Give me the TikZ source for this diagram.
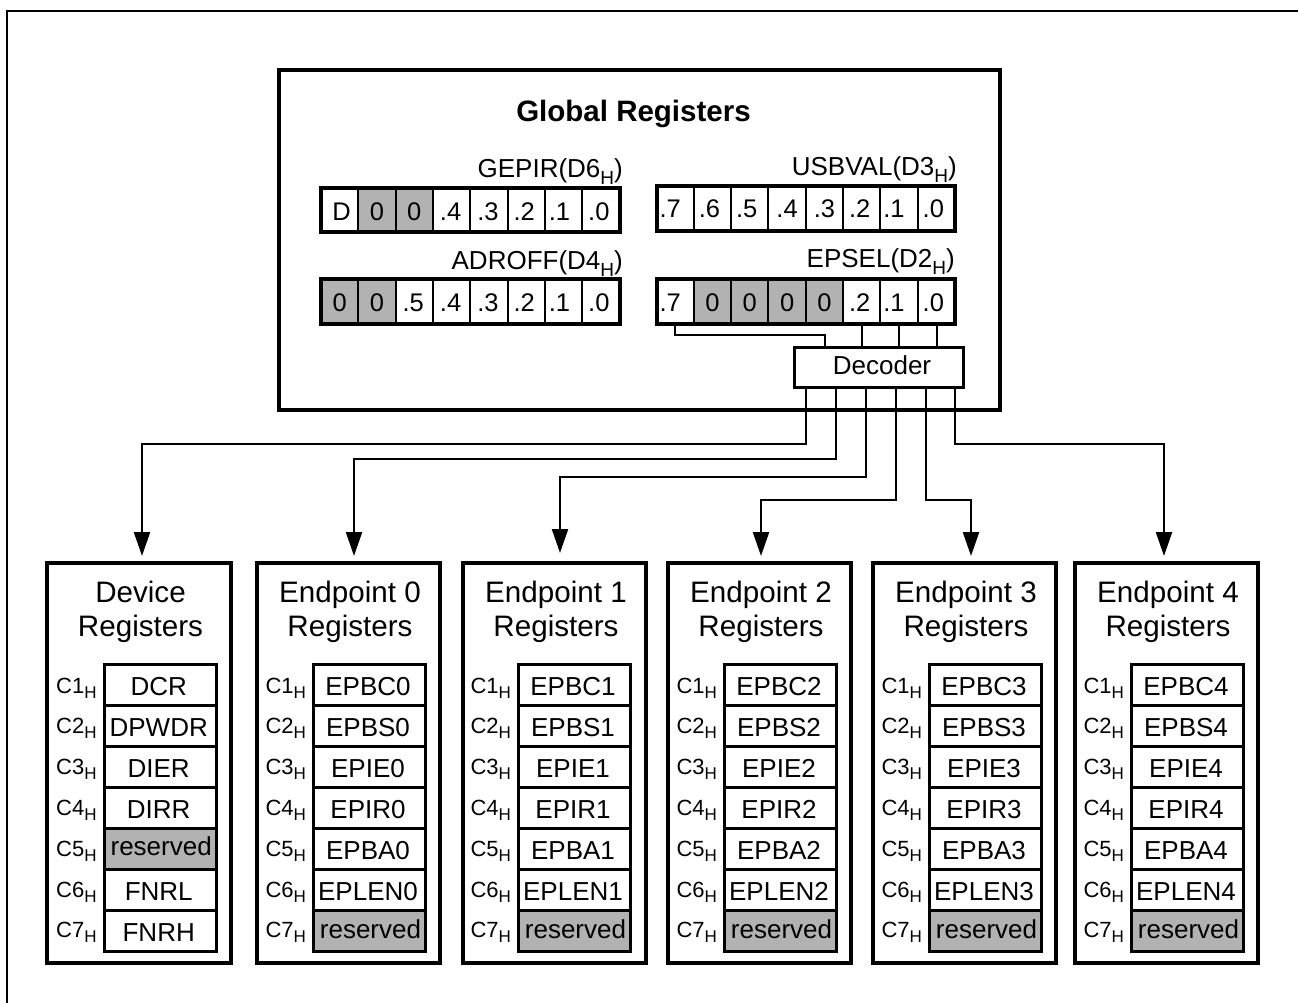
\documentclass[tikz,border=0pt]{standalone}
\usepackage{fontspec}
\setmainfont{Liberation Sans}
\usetikzlibrary{arrows.meta}
\definecolor{cellgray}{gray}{0.70}
\newcommand{\fs}[1]{\fontsize{#1}{#1}\selectfont}
\newcommand{\hsub}{\raisebox{-7pt}{\fs{19}H}}
% \bitrow{x left}{x right}{y top}{y bottom}{baseline}{cells}
\newcommand{\bitrow}[6]{%
  \pgfmathsetmacro{\cw}{(#2-#1)/8}
  \foreach \t/\f/\d [count=\i from 0] in {#6}{
    \pgfmathsetmacro{\xa}{#1+\i*\cw}
    \pgfmathsetmacro{\xb}{\xa+\cw}
    \pgfmathsetmacro{\xc}{\xa+\cw/2+\d}
    \fill[\f] (\xa,#3) rectangle (\xb,#4);
    \ifnum\i>0 \draw[thin2] (\xa,#3) -- (\xa,#4);\fi
    \node[bittext] at (\xc,#5) {\t};
  }
  \draw[thick4] (#1,#3) rectangle (#2,#4);
}
\tikzset{
  x=1pt,y=-1pt,
  thin2/.style={line width=2pt,draw=black},
  thick4/.style={line width=4pt,draw=black,line join=miter},
  thick3/.style={line width=3pt,draw=black},
  bittext/.style={anchor=base,inner sep=0pt,font=\fs{25.5}},
  regtext/.style={anchor=base,inner sep=0pt,font=\fs{26}},
  titletext/.style={anchor=base,inner sep=0pt,font=\fs{29.6}},
  rowlabel/.style={anchor=base west,inner sep=0pt,font=\fs{22}},
  nametext/.style={anchor=base east,inner sep=0pt,font=\fs{26}},
  regbox/.style={draw=black,line width=4pt,fill=white,minimum height=400pt,inner sep=0pt,outer sep=0pt},
  globalbox/.style={draw=black,line width=4pt,fill=white,minimum width=721pt,minimum height=340pt,inner sep=0pt,outer sep=0pt},
  decoderbox/.style={draw=black,line width=3pt,fill=white,minimum width=169pt,minimum height=40pt,inner sep=0pt,outer sep=0pt},
  conn/.style={line width=2.3pt,draw=black,-{Triangle[width=16pt,length=24pt]}},
  wire/.style={line width=2.2pt,draw=black},
}
\begin{document}
\begin{tikzpicture}
\useasboundingbox (0,0) rectangle (1298,1003);
\fill[white] (0,0) rectangle (1298,1003);
% page corner lines
\coordinate (cornerA) at (7,1003);
\coordinate (cornerB) at (7,11);
\coordinate (cornerC) at (1298,11);
\draw[line width=2pt,line join=miter] (cornerA) -- (cornerB) -- (cornerC);

% global registers
\node[globalbox] (global) at (639.5,240) {};
\node[anchor=base,inner sep=0pt,font=\fs{29.5}\bfseries] (gtitle) at (633.5,122) {Global Registers};

\node[nametext] (ngepir) at (623,178) {GEPIR(D6\hsub)};
\node[nametext] (nadroff) at (623,269) {ADROFF(D4\hsub)};
\node[nametext] (nusbval) at (957,176) {USBVAL(D3\hsub)};
\node[nametext] (nepsel) at (955,267) {EPSEL(D2\hsub)};

\bitrow{321}{619.5}{188}{232}{220}{D/white/2,0/cellgray/0,0/cellgray/0,.4/white/-1,.3/white/-1,.2/white/-2,.1/white/-4,.0/white/-2}
\bitrow{321}{619.5}{279}{324}{311}{0/cellgray/0,0/cellgray/0,.5/white/-1,.4/white/-1,.3/white/-1,.2/white/-2,.1/white/-4,.0/white/-2}
\bitrow{656.5}{955}{186}{231}{218}{.7/white/-5,.6/white/-3,.5/white/-3,.4/white/0,.3/white/0,.2/white/-2,.1/white/-5,.0/white/-3}
\bitrow{656.5}{955}{278.5}{324}{311}{.7/white/-5,0/cellgray/0,0/cellgray/0,0/cellgray/0,0/cellgray/0,.2/white/-2,.1/white/-5,.0/white/-3}

% decoder
\node[decoderbox] (decoder) at (878.5,367) {};
\node[regtext] (dectext) at (882,374) {Decoder};

\coordinate (s7) at (675,325);
\coordinate (s2) at (862,325);
\coordinate (s1) at (899,325);
\coordinate (s0) at (937,325);
\draw[wire] (s7) -- ++(0,10) -| (decoder.north -| 825,0);
\draw[wire] (s2) -- (decoder.north -| s2);
\draw[wire] (s1) -- (decoder.north -| s1);
\draw[wire] (s0) -- (decoder.north -| s0);

% register blocks
\foreach \bl/\br/\sl/\nm/\lineone/\rA/\rB/\rC/\rD/\rE/\rF/\rG/\sE/\sG/\dyE/\dyG in {
  47/231/104/dev/Device/DCR/DPWDR/DIER/DIRR/reserved/FNRL/FNRH/cellgray/white/3.5/0,
  257.3/439.7/313.3/ep0/Endpoint 0/EPBC0/EPBS0/EPIE0/EPIR0/EPBA0/EPLEN0/reserved/white/cellgray/0/3,
  463/646/518.3/ep1/Endpoint 1/EPBC1/EPBS1/EPIE1/EPIR1/EPBA1/EPLEN1/reserved/white/cellgray/0/3,
  668/851/724.3/ep2/Endpoint 2/EPBC2/EPBS2/EPIE2/EPIR2/EPBA2/EPLEN2/reserved/white/cellgray/0/3,
  873/1056/929.3/ep3/Endpoint 3/EPBC3/EPBS3/EPIE3/EPIR3/EPBA3/EPLEN3/reserved/white/cellgray/0/3,
  1075/1258/1131.3/ep4/Endpoint 4/EPBC4/EPBS4/EPIE4/EPIR4/EPBA4/EPLEN4/reserved/white/cellgray/0/3}{
  \pgfmathsetmacro{\bc}{(\bl+\br)/2}
  \pgfmathsetmacro{\bw}{\br-\bl}
  \node[regbox,minimum width=\bw pt] (box\nm) at (\bc,763) {};
  \pgfmathsetmacro{\tc}{\bc+1.5}
  \pgfmathsetmacro{\sr}{\sl+112.4}
  \pgfmathsetmacro{\sc}{\sl+56.2-1.5}
  \pgfmathsetmacro{\lx}{\sl-48}
  \node[titletext] (t1\nm) at (\tc,602) {\lineone};
  \node[titletext] (t2\nm) at (\tc,636) {Registers};
  \fill[\sE] (\sl,828.3) rectangle (\sr,869.3);
  \fill[\sG] (\sl,910.3) rectangle (\sr,951.7);
  \foreach \yy in {705,746.7,787.3,828.3,869.3,910.3}{
    \draw[line width=3pt] (\sl-1.5,\yy) -- (\sr,\yy);
  }
  \draw[thick3] (\sl,664.3) rectangle (\sr,951.7);
  \node[regtext] at (\sc,695) {\rA};
  \node[regtext] at (\sc,736) {\rB};
  \node[regtext] at (\sc,777) {\rC};
  \node[regtext] at (\sc,818) {\rD};
  \pgfmathsetmacro{\yE}{859-\dyE}
  \pgfmathsetmacro{\yG}{941-\dyG}
  \pgfmathsetmacro{\xE}{\sc+(\dyE>0?2.5:0)}
  \pgfmathsetmacro{\xG}{\sc+(\dyG>0?2.5:0)}
  \node[regtext] at (\xE,\yE) {\rE};
  \node[regtext] at (\sc,900) {\rF};
  \node[regtext] at (\xG,\yG) {\rG};
  \foreach \k in {1,...,7}{
    \pgfmathsetmacro{\yl}{693+(\k-1)*40.8}
    \node[rowlabel] at (\lx,\yl) {C\k{\raisebox{-5pt}{\fs{17}H}}};
  }
}

% decoder outputs and arrows
\coordinate (o1) at (806,388);
\coordinate (o2) at (836,388);
\coordinate (o3) at (866,388);
\coordinate (o4) at (896,388);
\coordinate (o5) at (926,388);
\coordinate (o6) at (955,388);
\coordinate (a1) at (142,556);
\coordinate (a2) at (354,556);
\coordinate (a3) at (560,553);
\coordinate (a4) at (761,556);
\coordinate (a5) at (971,556);
\coordinate (a6) at (1164,556);
\draw[conn] (o1) -- ++(0,56) -| (a1);
\draw[conn] (o2) -- ++(0,71) -| (a2);
\draw[conn] (o3) -- ++(0,89) -| (a3);
\draw[conn] (o4) -- ++(0,112) -| (a4);
\draw[conn] (o5) -- ++(0,112) -| (a5);
\draw[conn] (o6) -- ++(0,56) -| (a6);
\end{tikzpicture}
\end{document}
